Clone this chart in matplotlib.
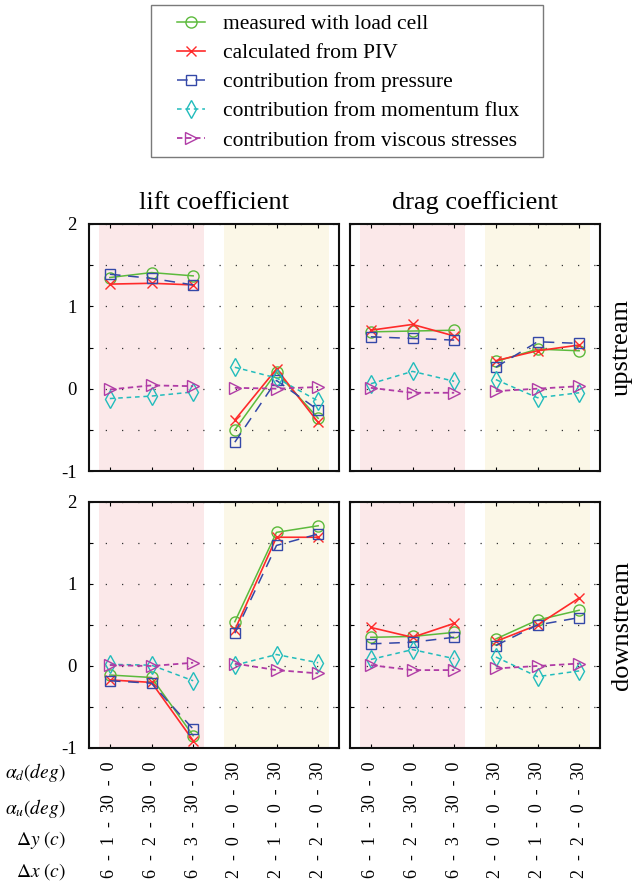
import matplotlib
matplotlib.use("Agg")
import matplotlib.pyplot as plt
from matplotlib.patches import Rectangle
from matplotlib.lines import Line2D

plt.rcParams['font.family'] = ['Liberation Serif', 'DejaVu Serif']
plt.rcParams['mathtext.fontset'] = 'stix'

# ---- configurations (dx - dy - alpha_u - alpha_d) ----
positions = [1, 2, 3, 4, 5, 6]
config_labels = ['6  -  1  -  30  -  0', '6  -  2  -  30  -  0', '6  -  3  -  30  -  0',
                 '2  -  0  -  0  -  30', '2  -  1  -  0  -  30', '2  -  2  -  0  -  30']
row_labels = [r'$\alpha_d(deg)$', r'$\alpha_u(deg)$', r'$\mathit{\Delta}y\ (c)$', r'$\mathit{\Delta}x\ (c)$']
col_titles = ['lift coefficient', 'drag coefficient']
row_titles = ['upstream', 'downstream']
yticks = [-1, -0.5, 0, 0.5, 1, 1.5, 2]
ytick_labels = ['-1', '', '0', '', '1', '', '2']

# ---- lift, upstream ----
lift_up_load = [1.35, 1.41, 1.37, -0.50, 0.20, -0.36]
lift_up_piv = [1.27, 1.28, 1.26, -0.38, 0.24, -0.41]
lift_up_pressure = [1.39, 1.34, 1.26, -0.65, 0.10, -0.26]
lift_up_momentum = [-0.12, -0.09, -0.04, 0.26, 0.13, -0.15]
lift_up_viscous = [-0.01, 0.04, 0.03, 0.01, 0.00, 0.02]

# ---- drag, upstream ----
drag_up_load = [0.69, 0.70, 0.71, 0.33, 0.48, 0.46]
drag_up_piv = [0.71, 0.78, 0.64, 0.34, 0.46, 0.53]
drag_up_pressure = [0.63, 0.61, 0.59, 0.26, 0.57, 0.55]
drag_up_momentum = [0.06, 0.21, 0.09, 0.11, -0.11, -0.05]
drag_up_viscous = [0.01, -0.05, -0.05, -0.03, 0.00, 0.03]

# ---- lift, downstream ----
lift_dn_load = [-0.11, -0.14, -0.85, 0.54, 1.63, 1.71]
lift_dn_piv = [-0.17, -0.20, -0.91, 0.44, 1.57, 1.57]
lift_dn_pressure = [-0.18, -0.21, -0.77, 0.40, 1.47, 1.61]
lift_dn_momentum = [0.02, 0.01, -0.18, 0.01, 0.14, 0.04]
lift_dn_viscous = [0.01, 0.00, 0.04, 0.03, -0.05, -0.09]

# ---- drag, downstream ----
drag_dn_load = [0.35, 0.36, 0.41, 0.33, 0.56, 0.68]
drag_dn_piv = [0.47, 0.35, 0.52, 0.30, 0.50, 0.83]
drag_dn_pressure = [0.27, 0.29, 0.35, 0.25, 0.50, 0.59]
drag_dn_momentum = [0.08, 0.20, 0.09, 0.11, -0.13, -0.06]
drag_dn_viscous = [0.01, -0.05, -0.05, -0.03, 0.00, 0.03]

panels = [
    [lift_up_load, lift_up_piv, lift_up_pressure, lift_up_momentum, lift_up_viscous],
    [drag_up_load, drag_up_piv, drag_up_pressure, drag_up_momentum, drag_up_viscous],
    [lift_dn_load, lift_dn_piv, lift_dn_pressure, lift_dn_momentum, lift_dn_viscous],
    [drag_dn_load, drag_dn_piv, drag_dn_pressure, drag_dn_momentum, drag_dn_viscous],
]

series_labels = ['measured with load cell', 'calculated from PIV', 'contribution from pressure',
                 'contribution from momentum flux', 'contribution from viscous stresses']

styles = [
    dict(color='#5cba3c', ls='-', marker='o', ms=8, lw=1.1),
    dict(color='#ff2a2a', ls='-', marker='x', ms=6.5, lw=1.2),
    dict(color='#3448a8', ls=(0, (7, 5)), marker='s', ms=7, lw=1.1),
    dict(color='#22bcbc', ls=(0, (3, 2.5)), marker='d', ms=9, lw=1.1),
    dict(color='#b03ca6', ls=(0, (3, 2)), marker='>', ms=9, lw=1.3),
]

fig = plt.figure(figsize=(6.34, 8.84), dpi=100)
W, H = 634.0, 884.0

def frac_box(x0, y0, x1, y1):
    return [x0 / W, 1 - y1 / H, (x1 - x0) / W, (y1 - y0) / H]

boxes = [frac_box(89, 224, 339, 471), frac_box(350, 224, 600, 471),
         frac_box(89, 502, 339, 748), frac_box(350, 502, 600, 748)]

groups = [slice(0, 3), slice(3, 6)]
for i, (box, data) in enumerate(zip(boxes, panels)):
    ax = fig.add_axes(box)
    ax.axvspan(0.75, 3.25, color='#fbe8e9', lw=0, zorder=0)
    ax.axvspan(3.75, 6.25, color='#fbf7e7', lw=0, zorder=0)
    for vals, st in zip(data, styles):
        for g in groups:
            ax.plot(positions[g], vals[g], color=st['color'], ls=st['ls'], lw=st['lw'],
                    marker=st['marker'], ms=st['ms'], mfc='none', mec=st['color'],
                    mew=1.0, zorder=3)
    ax.set_xlim(0.5, 6.5)
    ax.set_ylim(-1, 2)
    ax.set_yticks(yticks)
    ax.set_xticks(positions)
    ax.yaxis.grid(True, color='#333333', ls=(0, (1, 12)), lw=0.9)
    ax.tick_params(axis='both', direction='in', length=3, width=0.8,
                   top=True, right=True, labelsize=13)
    ax.tick_params(axis='y', pad=9)
    if i % 2 == 0:
        ax.set_yticklabels(ytick_labels, fontsize=13.5)
    else:
        ax.set_yticklabels([])
    if i >= 2:
        ax.set_xticklabels(config_labels, rotation=90, fontsize=13)
        ax.tick_params(axis='x', pad=10)
    else:
        ax.set_xticklabels([])
        ax.set_title(col_titles[i], fontsize=19, pad=11)
    for sp in ax.spines.values():
        sp.set_linewidth(1.5)
        sp.set_color('#111111')

for k, lab in enumerate(row_titles):
    yc = (224 + 471) / 2 if k == 0 else (502 + 748) / 2
    fig.text(622 / W, 1 - yc / H, lab, rotation=90, ha='center', va='center', fontsize=19)

for lab, yp in zip(row_labels, [773, 808, 840, 872]):
    fig.text(66 / W, 1 - yp / H, lab, ha='right', va='center', fontsize=14)

# legend
handles = [Line2D([], [], color=st['color'], ls=st['ls'], lw=st['lw'], marker=st['marker'],
                  ms=st['ms'], mfc='none', mec=st['color'], mew=1.0) for st in styles]
fig.legend(handles, series_labels, loc='upper left', bbox_to_anchor=(177 / W, 1 - 14 / H),
           frameon=False, fontsize=15.5, handlelength=1.3, handletextpad=0.85,
           labelspacing=0.42, borderpad=0, borderaxespad=0, numpoints=1)
fig.patches.append(Rectangle((151 / W, 1 - 157 / H), (543 - 151) / W, (157 - 5) / H,
                             transform=fig.transFigure, fill=False, ec='#7a7a7a', lw=1.0))

fig.savefig('out.png', dpi=100)
